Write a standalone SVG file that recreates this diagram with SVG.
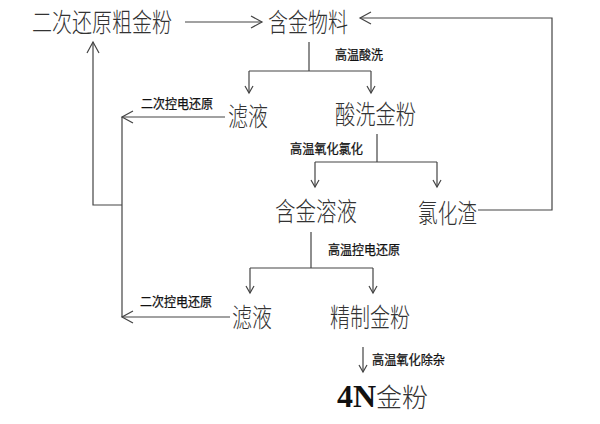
<svg xmlns="http://www.w3.org/2000/svg" width="600" height="424" viewBox="0 0 600 424">
<style>
.n{font-family:"Noto Sans CJK SC","Noto Sans",sans-serif;font-size:26px;font-weight:300;fill:#333;}
.l{font-family:"Noto Sans CJK SC","Noto Sans",sans-serif;font-size:13px;fill:#111;stroke:#111;stroke-width:0.25;}
.c path{fill:none;stroke:#444;stroke-width:1.2;}
.b{font-family:"Liberation Serif",serif;font-weight:bold;font-size:32px;fill:#111;}
</style>
<defs>
<marker id="big" markerUnits="userSpaceOnUse" markerWidth="14" markerHeight="14" refX="12" refY="7" orient="auto" viewBox="0 0 14 14">
<path d="M1,1 L12,7 L1,13" fill="none" stroke="#444" stroke-width="1.2"/>
</marker>
<marker id="sm" markerUnits="userSpaceOnUse" markerWidth="10" markerHeight="10" refX="8" refY="5" orient="auto" viewBox="0 0 10 10">
<path d="M1,1 L8,5 L1,9" fill="none" stroke="#444" stroke-width="1.2"/>
</marker>
</defs>
<rect width="600" height="424" fill="#fff"/>
<g class="c" id="connectors">
<path d="M185,22 H262" marker-end="url(#big)"/>
<path d="M478,210 H552 V18 H360" marker-end="url(#big)"/>
<path d="M309,42 V71 M249,71 H371"/>
<path d="M249,71 V93" marker-end="url(#sm)"/>
<path d="M371,71 V93" marker-end="url(#sm)"/>
<path d="M225,117 H122" marker-end="url(#big)"/>
<path d="M122,117 V317"/>
<path d="M230,317 H122" marker-end="url(#big)"/>
<path d="M122,205 H93 V42" marker-end="url(#big)"/>
<path d="M377,134 V162 M315,162 H437"/>
<path d="M315,162 V187" marker-end="url(#sm)"/>
<path d="M437,162 V187" marker-end="url(#sm)"/>
<path d="M311,232 V268 M250,268 H373"/>
<path d="M250,268 V293" marker-end="url(#sm)"/>
<path d="M373,268 V293" marker-end="url(#sm)"/>
<path d="M363,347 V372" marker-end="url(#sm)"/>
</g>
<g id="n1"><text class="n" x="32" y="32" textLength="140" lengthAdjust="spacingAndGlyphs">二次还原粗金粉</text></g>
<g id="n2"><text class="n" x="268" y="32" textLength="80" lengthAdjust="spacingAndGlyphs">含金物料</text></g>
<g id="n3"><text class="n" x="228" y="126" textLength="40" lengthAdjust="spacingAndGlyphs">滤液</text></g>
<g id="n4"><text class="n" x="335" y="124" textLength="81" lengthAdjust="spacingAndGlyphs">酸洗金粉</text></g>
<g id="n5"><text class="n" x="275" y="221" textLength="82" lengthAdjust="spacingAndGlyphs">含金溶液</text></g>
<g id="n6"><text class="n" x="418" y="223" textLength="59" lengthAdjust="spacingAndGlyphs">氯化渣</text></g>
<g id="n7"><text class="n" x="232" y="327" textLength="40" lengthAdjust="spacingAndGlyphs">滤液</text></g>
<g id="n8"><text class="n" x="330" y="327" textLength="80" lengthAdjust="spacingAndGlyphs">精制金粉</text></g>
<g id="n9"><text x="337" y="407"><tspan class="b">4N</tspan><tspan class="n" font-size="24">金粉</tspan></text></g>
<g id="labels">
<text class="l" x="335" y="59" textLength="48" lengthAdjust="spacingAndGlyphs">高温酸洗</text>
<text class="l" x="141" y="108" textLength="72" lengthAdjust="spacingAndGlyphs">二次控电还原</text>
<text class="l" x="290" y="153" textLength="73" lengthAdjust="spacingAndGlyphs">高温氧化氯化</text>
<text class="l" x="328" y="254" textLength="72" lengthAdjust="spacingAndGlyphs">高温控电还原</text>
<text class="l" x="140" y="306" textLength="72" lengthAdjust="spacingAndGlyphs">二次控电还原</text>
<text class="l" x="372" y="364" textLength="73" lengthAdjust="spacingAndGlyphs">高温氧化除杂</text>
</g>
</svg>
